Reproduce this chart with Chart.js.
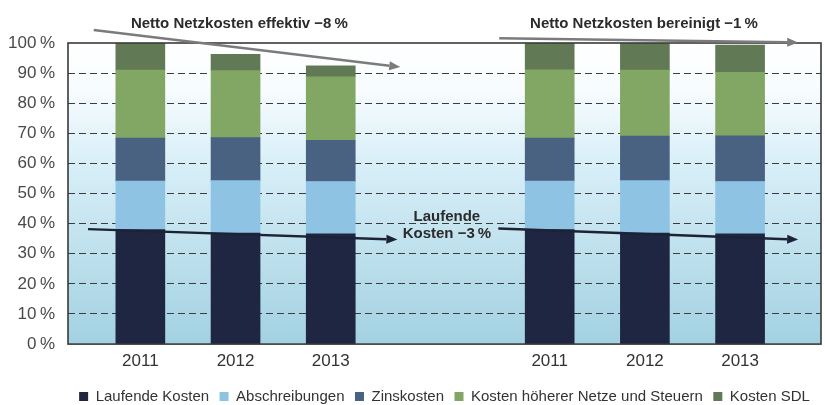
<!DOCTYPE html>
<html>
<head>
<meta charset="utf-8">
<script src="https://cdn.jsdelivr.net/npm/chart.js@4/dist/chart.umd.min.js"></script>
<style>
  html, body { margin: 0; padding: 0; background: #fff; }
  #wrap { width: 825px; height: 405px; }
</style>
</head>
<body>
<div id="wrap"><canvas id="chart"></canvas></div>
<script>
// values, in % of 2011 costs
const years = ['2011', '2012', '2013', '2011', '2012', '2013']
const laufendeKosten = [38.0, 36.9, 36.6, 38.0, 36.9, 36.6]
const abschreibungen = [16.1, 17.4, 17.4, 16.1, 17.4, 17.4]
const zinskosten = [14.3, 14.3, 13.7, 14.3, 14.8, 15.2]
const hoehereNetze = [22.6, 22.2, 21.1, 22.7, 21.9, 21.1]
const kostenSDL = [9.0, 5.4, 3.6, 8.9, 9.0, 9.0]
const yTicks = [0, 10, 20, 30, 40, 50, 60, 70, 80, 90, 100]

// trend arrows, in category slots (x) and percent (y)
const trendFrom = [[-0.49, 104.3], [3.77, 101.6], [-0.55, 38.2], [3.76, 38.4]]
const trendTo = [[2.73, 92.0], [6.91, 100.2], [2.70, 34.7], [6.91, 34.7]]
const trendLabels = ['Netto Netzkosten effektiv \u22128\u2009%', 'Netto Netzkosten bereinigt \u22121\u2009%', 'Laufende', 'Kosten \u22123\u2009%']
const labelAt = [[1.04, 106.5], [5.29, 106.5], [3.22, 42.3], [3.22, 36.7]]

const GROUP_GAP = 1.3
const slot = (i) => i + (i >= 3 ? GROUP_GAP : 0)
const FONT = '"Liberation Sans", Arial, sans-serif'

const points = (arr) => arr.map((v, i) => ({ x: slot(i), y: v }))

function drawArrow (ctx, x1, y1, x2, y2, color) {
  const a = Math.atan2(y2 - y1, x2 - x1)
  const h = 11, hw = 4.5
  const bx = x2 - h * Math.cos(a), by = y2 - h * Math.sin(a)
  ctx.strokeStyle = color
  ctx.lineWidth = 2.4
  ctx.beginPath()
  ctx.moveTo(x1, y1)
  ctx.lineTo(bx, by)
  ctx.stroke()
  ctx.fillStyle = color
  ctx.beginPath()
  ctx.moveTo(x2, y2)
  ctx.lineTo(bx + hw * Math.sin(a), by - hw * Math.cos(a))
  ctx.lineTo(bx - hw * Math.sin(a), by + hw * Math.cos(a))
  ctx.closePath()
  ctx.fill()
}

const backdrop = {
  id: 'backdrop',
  beforeDraw (chart) {
    const { ctx, chartArea: a } = chart
    const g = ctx.createLinearGradient(0, a.top, 0, a.bottom)
    g.addColorStop(0, '#ffffff')
    g.addColorStop(0.15, '#f8fcfe')
    g.addColorStop(0.4, '#d8eff8')
    g.addColorStop(1, '#a3d1e2')
    ctx.save()
    ctx.fillStyle = g
    ctx.fillRect(a.left, a.top, a.right - a.left, a.bottom - a.top)
    ctx.restore()
  },
  afterDatasetsDraw (chart) {
    const { ctx, chartArea: a, scales } = chart
    ctx.save()
    ctx.strokeStyle = '#3a3a3a'
    ctx.lineWidth = 1.6
    ctx.strokeRect(a.left, a.top, a.right - a.left, a.bottom - a.top)

    trendFrom.forEach((p, i) => {
      const q = trendTo[i]
      drawArrow(ctx,
        scales.x.getPixelForValue(p[0]), scales.y.getPixelForValue(p[1]),
        scales.x.getPixelForValue(q[0]), scales.y.getPixelForValue(q[1]),
        i < 2 ? '#7b7b7b' : '#1c2336')
    })

    ctx.font = 'bold 15px ' + FONT
    ctx.fillStyle = '#2b2b2b'
    ctx.textAlign = 'center'
    ctx.textBaseline = 'middle'
    trendLabels.forEach((t, i) => {
      ctx.fillText(t, scales.x.getPixelForValue(labelAt[i][0]), scales.y.getPixelForValue(labelAt[i][1]))
    })
    ctx.restore()
  }
}

const ctx = document.getElementById('chart')
new Chart(ctx, {
  type: 'bar',
  data: {
    datasets: [
      { label: 'Laufende Kosten', data: points(laufendeKosten), backgroundColor: '#1e2641' },
      { label: 'Abschreibungen', data: points(abschreibungen), backgroundColor: '#8ec3e3' },
      { label: 'Zinskosten', data: points(zinskosten), backgroundColor: '#4a6282' },
      { label: 'Kosten höherer Netze und Steuern', data: points(hoehereNetze), backgroundColor: '#82a764' },
      { label: 'Kosten SDL', data: points(kostenSDL), backgroundColor: '#617a55' }
    ]
  },
  options: {
    responsive: true,
    maintainAspectRatio: false,
    animation: false,
    barThickness: 49,
    borderWidth: 0,
    layout: { padding: { top: 43, right: 4, left: 0, bottom: -9 } },
    plugins: {
      tooltip: { enabled: false },
      legend: {
        position: 'bottom',
        fullSize: false,
        labels: {
          boxWidth: 9,
          boxHeight: 9,
          padding: 10.5,
          color: '#333',
          font: { family: FONT, size: 15 }
        }
      }
    },
    scales: {
      x: {
        type: 'linear',
        stacked: true,
        offset: false,
        min: -0.76,
        max: 7.15,
        grid: { display: false, drawTicks: false },
        border: { display: false },
        afterBuildTicks: (scale) => { scale.ticks = years.map((_, i) => ({ value: slot(i) })) },
        ticks: {
          autoSkip: false,
          maxRotation: 0,
          padding: 7,
          color: '#333',
          font: { family: FONT, size: 17 },
          callback: (v, i) => years[i]
        }
      },
      y: {
        stacked: true,
        min: 0,
        max: 100,
        afterFit: (scale) => { scale.width = 68 },
        afterBuildTicks: (scale) => { scale.ticks = yTicks.map(v => ({ value: v })) },
        grid: {
          drawTicks: false,
          color: (c) => (c.tick && c.tick.value > 0 && c.tick.value < 100) ? '#3c3c3c' : 'rgba(0,0,0,0)',
          lineWidth: 1
        },
        border: { display: false, dash: [7, 4] },
        ticks: {
          padding: 13,
          color: '#4a4a4a',
          font: { family: FONT, size: 17 },
          callback: (v) => v + '\u2009%'
        }
      }
    }
  },
  plugins: [backdrop]
})
</script>
</body>
</html>
